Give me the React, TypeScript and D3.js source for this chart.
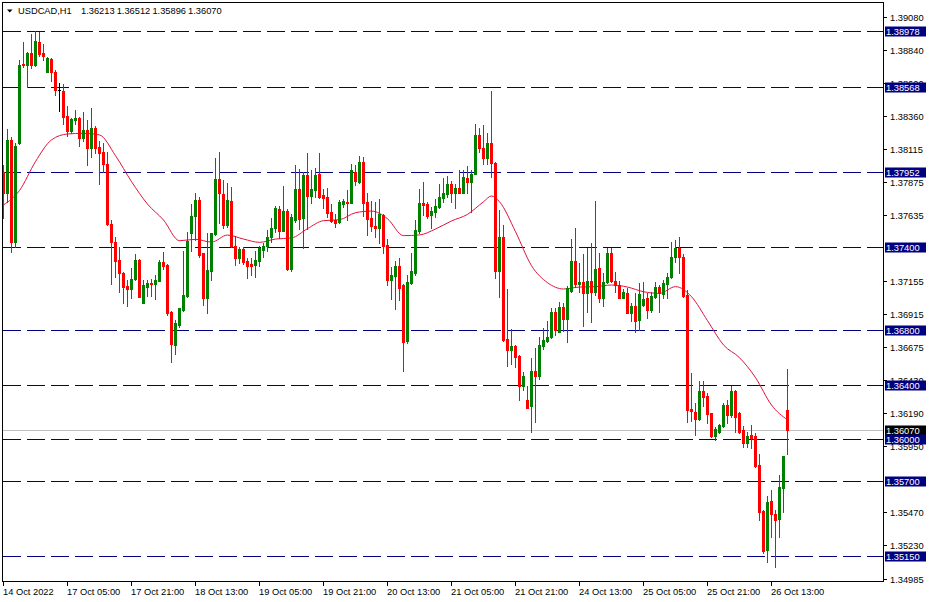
import React from "react";
import * as d3 from "d3";

// USDCAD H1 candles, bar 0 = 14 Oct 2022
const opens = [
  1.37953, 1.37795, 1.38184, 1.37443, 1.38159, 1.3874, 1.3873, 1.38818, 1.3873, 1.38901,
  1.38818, 1.38682, 1.38774, 1.38682, 1.38548, 1.38541, 1.38359, 1.38249, 1.3833, 1.38347,
  1.38201, 1.38254, 1.38128, 1.38269, 1.38133, 1.38099, 1.38006, 1.37569, 1.37443, 1.37309,
  1.37217, 1.37119, 1.37097, 1.37167, 1.37308, 1.36997, 1.37114, 1.37143, 1.37133, 1.37157,
  1.37294, 1.37272, 1.36932, 1.36689, 1.36834, 1.36944, 1.37046, 1.37507, 1.37629, 1.37746,
  1.37357, 1.37034, 1.3723, 1.37498, 1.37896, 1.37789, 1.37563, 1.37738, 1.3741, 1.3732,
  1.37388, 1.37301, 1.37277, 1.37272, 1.37303, 1.37381, 1.3741, 1.37473, 1.37539, 1.37678,
  1.37522, 1.37665, 1.37243, 1.376, 1.37823, 1.37612, 1.37928, 1.37775, 1.37818, 1.37935,
  1.37782, 1.37765, 1.37661, 1.376, 1.37588, 1.37716, 1.37733, 1.37726, 1.37952, 1.37879,
  1.38025, 1.37733, 1.37612, 1.37556, 1.37544, 1.37636, 1.37418, 1.37162, 1.37192, 1.37265,
  1.37126, 1.36718, 1.37143, 1.37211, 1.3752, 1.37726, 1.37717, 1.37636, 1.37661, 1.37697,
  1.37763, 1.37787, 1.37862, 1.37794, 1.37836, 1.37799, 1.37904, 1.37879, 1.37938, 1.38219,
  1.38127, 1.38049, 1.38159, 1.38013, 1.3723, 1.37473, 1.36732, 1.36652, 1.36681, 1.36608,
  1.3639, 1.36288, 1.36246, 1.36499, 1.36465, 1.36684, 1.3672, 1.36749, 1.36932, 1.36786,
  1.36968, 1.36878, 1.37082, 1.37301, 1.37131, 1.37145, 1.37065, 1.37155, 1.37073, 1.37248,
  1.37034, 1.3715, 1.37357, 1.37155, 1.37126, 1.37034, 1.37065, 1.36924, 1.36973, 1.36871,
  1.3698, 1.37029, 1.36944, 1.37041, 1.37114, 1.3706, 1.37133, 1.37182, 1.37328, 1.37393,
  1.37333, 1.37053, 1.3622, 1.36203, 1.36149, 1.36351, 1.36317, 1.3619, 1.36025, 1.36057,
  1.36098, 1.36251, 1.36178, 1.36351, 1.3619, 1.36069, 1.35972, 1.36033, 1.36025, 1.35814,
  1.35479, 1.35194, 1.35551, 1.35457, 1.3542, 1.35649, 1.36213,
];
const highs = [
  1.38001, 1.38264, 1.38203, 1.38159, 1.38767, 1.38901, 1.38828, 1.38956, 1.38978, 1.38973,
  1.38881, 1.38791, 1.38779, 1.3869, 1.38597, 1.38589, 1.38432, 1.38342, 1.38402, 1.38354,
  1.38385, 1.3833, 1.38415, 1.38288, 1.38176, 1.38159, 1.38099, 1.376, 1.37479, 1.37406,
  1.37222, 1.37163, 1.37252, 1.3735, 1.37313, 1.37162, 1.37162, 1.37167, 1.37199, 1.37308,
  1.37364, 1.37277, 1.36936, 1.36871, 1.36961, 1.37374, 1.37515, 1.37716, 1.37794, 1.37765,
  1.37362, 1.37503, 1.37507, 1.38049, 1.38098, 1.37891, 1.37867, 1.37843, 1.37483, 1.37405,
  1.37401, 1.3732, 1.3732, 1.37376, 1.3741, 1.37435, 1.37527, 1.37612, 1.37702, 1.37702,
  1.37848, 1.37678, 1.37644, 1.38001, 1.37972, 1.37952, 1.38086, 1.37964, 1.37976, 1.38086,
  1.37823, 1.37831, 1.37716, 1.37644, 1.37746, 1.3775, 1.37818, 1.38008, 1.38001, 1.38066,
  1.38062, 1.37799, 1.37738, 1.37733, 1.3775, 1.37641, 1.37464, 1.3726, 1.37303, 1.3732,
  1.37131, 1.37199, 1.37357, 1.376, 1.37823, 1.37874, 1.37729, 1.37697, 1.37753, 1.3786,
  1.37908, 1.37923, 1.37884, 1.3786, 1.37964, 1.37964, 1.37994, 1.37964, 1.38297, 1.38273,
  1.38292, 1.38232, 1.3854, 1.3802, 1.37673, 1.37563, 1.37097, 1.36803, 1.36686, 1.36616,
  1.36494, 1.3639, 1.36591, 1.36669, 1.36749, 1.36815, 1.36864, 1.36956, 1.36961, 1.37,
  1.36992, 1.37121, 1.37461, 1.37544, 1.37284, 1.3735, 1.37393, 1.3743, 1.37738, 1.37357,
  1.37211, 1.37398, 1.37398, 1.37218, 1.37155, 1.37097, 1.37102, 1.36992, 1.3707, 1.37138,
  1.3715, 1.37065, 1.37073, 1.3715, 1.37126, 1.37162, 1.37216, 1.37442, 1.37454, 1.37474,
  1.37352, 1.3709, 1.36482, 1.36263, 1.36426, 1.36426, 1.36336, 1.36195, 1.36088, 1.36113,
  1.36263, 1.36288, 1.3639, 1.36361, 1.36203, 1.36098, 1.36057, 1.36106, 1.36045, 1.35894,
  1.35486, 1.3559, 1.35632, 1.35486, 1.35741, 1.35879, 1.36512,
];
const lows = [
  1.37617, 1.37734, 1.3737, 1.37406, 1.38152, 1.38718, 1.38572, 1.38706, 1.38726, 1.38798,
  1.38767, 1.38677, 1.38614, 1.38512, 1.38395, 1.38298, 1.38213, 1.38232, 1.38298, 1.38142,
  1.38176, 1.38001, 1.38062, 1.38086, 1.37865, 1.37953, 1.37564, 1.37136, 1.37187, 1.37078,
  1.36998, 1.36976, 1.37034, 1.37162, 1.37036, 1.36992, 1.37046, 1.37046, 1.37026, 1.37153,
  1.3724, 1.36907, 1.36567, 1.36623, 1.36822, 1.36939, 1.37041, 1.37374, 1.37454, 1.37333,
  1.3698, 1.36924, 1.37162, 1.3749, 1.37576, 1.37539, 1.37551, 1.37405, 1.37272, 1.37289,
  1.37279, 1.37175, 1.37199, 1.37187, 1.37265, 1.37333, 1.37376, 1.37442, 1.37515, 1.37466,
  1.37517, 1.37235, 1.37228, 1.37588, 1.37532, 1.37393, 1.37532, 1.37726, 1.37765, 1.37758,
  1.37685, 1.37619, 1.37588, 1.37546, 1.3758, 1.37697, 1.376, 1.37721, 1.37855, 1.37867,
  1.37629, 1.3749, 1.37522, 1.37478, 1.37435, 1.37362, 1.37126, 1.37024, 1.36951, 1.37017,
  1.36501, 1.36706, 1.37131, 1.37199, 1.37508, 1.37636, 1.37612, 1.37544, 1.37624, 1.3769,
  1.37733, 1.3777, 1.37729, 1.37685, 1.37794, 1.37794, 1.37794, 1.37656, 1.37933, 1.38098,
  1.38008, 1.38006, 1.37916, 1.37179, 1.37041, 1.3672, 1.36538, 1.3655, 1.36531, 1.36288,
  1.36361, 1.36227, 1.36057, 1.3613, 1.36441, 1.36659, 1.36713, 1.36742, 1.36762, 1.36781,
  1.36791, 1.36708, 1.37077, 1.37114, 1.37073, 1.3683, 1.36927, 1.36859, 1.37053, 1.37005,
  1.36975, 1.37138, 1.3715, 1.37077, 1.37029, 1.37029, 1.36919, 1.36864, 1.36786, 1.36798,
  1.36975, 1.36888, 1.36932, 1.37029, 1.36932, 1.37029, 1.37029, 1.37175, 1.37296, 1.37211,
  1.37036, 1.3613, 1.36137, 1.36033, 1.36144, 1.36244, 1.36122, 1.36016, 1.35996, 1.3605,
  1.36093, 1.36122, 1.36166, 1.36057, 1.36045, 1.35948, 1.35948, 1.35935, 1.35802, 1.35413,
  1.3517, 1.35109, 1.35291, 1.35073, 1.35287, 1.35474, 1.35896,
];
const closes = [
  1.37795, 1.38184, 1.37443, 1.3814, 1.3873, 1.38728, 1.38818, 1.3873, 1.38905, 1.38808,
  1.38798, 1.38779, 1.38682, 1.38548, 1.38548, 1.38354, 1.38249, 1.38337, 1.38342, 1.38201,
  1.38254, 1.38128, 1.38269, 1.38128, 1.38091, 1.38006, 1.37569, 1.37438, 1.37304, 1.37217,
  1.37114, 1.37097, 1.3717, 1.37308, 1.37041, 1.37126, 1.37143, 1.37136, 1.37162, 1.37294,
  1.37265, 1.36919, 1.36696, 1.36851, 1.36956, 1.37053, 1.37447, 1.37629, 1.37746, 1.37345,
  1.37034, 1.37235, 1.37503, 1.37896, 1.37799, 1.37563, 1.37746, 1.3741, 1.3732, 1.37388,
  1.37296, 1.37265, 1.37267, 1.37308, 1.37393, 1.3741, 1.37478, 1.37539, 1.37685, 1.37522,
  1.37665, 1.37243, 1.37619, 1.37823, 1.37605, 1.37928, 1.37775, 1.37823, 1.37928, 1.37765,
  1.37758, 1.37653, 1.37595, 1.3758, 1.37733, 1.37738, 1.37726, 1.37964, 1.37887, 1.38025,
  1.37726, 1.37605, 1.37556, 1.37544, 1.37644, 1.3741, 1.37162, 1.37199, 1.37265, 1.37107,
  1.36713, 1.37145, 1.37228, 1.37527, 1.37721, 1.37709, 1.37629, 1.37665, 1.37702, 1.3777,
  1.37794, 1.37862, 1.37794, 1.37836, 1.37799, 1.37916, 1.37879, 1.37938, 1.38219, 1.38122,
  1.38054, 1.38159, 1.38018, 1.3723, 1.37473, 1.36725, 1.36652, 1.36681, 1.36604, 1.3639,
  1.36463, 1.36232, 1.36499, 1.36465, 1.36689, 1.36725, 1.36749, 1.36932, 1.36798, 1.36968,
  1.36878, 1.37102, 1.37301, 1.37131, 1.37145, 1.37065, 1.37155, 1.37073, 1.37243, 1.37034,
  1.3715, 1.37357, 1.37155, 1.37126, 1.37034, 1.37073, 1.36924, 1.36973, 1.36864, 1.37058,
  1.37024, 1.36944, 1.37046, 1.37114, 1.37065, 1.37143, 1.37187, 1.37328, 1.37393, 1.37328,
  1.37046, 1.36215, 1.36208, 1.36149, 1.36351, 1.36312, 1.36188, 1.36025, 1.36074, 1.36106,
  1.36251, 1.36178, 1.36351, 1.36161, 1.36057, 1.35972, 1.36025, 1.36008, 1.35807, 1.35474,
  1.35189, 1.35547, 1.35454, 1.35413, 1.35656, 1.35879, 1.3607,
];

// moving average (bar index -> value)
const maBars = [0, 4, 8, 12, 16, 20, 24, 28, 32, 36, 40, 44, 48, 52, 56, 60, 64, 68, 72, 76, 80, 84, 88, 92, 96, 100, 104, 108, 112, 116, 120, 122, 124, 128, 132, 136, 140, 144, 148, 152, 156, 160, 164, 168, 172, 176, 180, 184, 188, 192, 196];
const maValues = [
  1.3771, 1.37815, 1.38026, 1.38184, 1.38227, 1.38232, 1.3822, 1.38069, 1.3788, 1.37716,
  1.376, 1.37449, 1.37459, 1.37439, 1.3749, 1.37461, 1.37437, 1.37461, 1.37469, 1.37537,
  1.37595, 1.37602, 1.37653, 1.37665, 1.37609, 1.37486, 1.37491, 1.37534, 1.37593, 1.37641,
  1.37733, 1.37775, 1.37733, 1.37515, 1.37267, 1.37143, 1.37097, 1.37111, 1.37114, 1.37126,
  1.37111, 1.37077, 1.37065, 1.37114, 1.37041, 1.36866, 1.36689, 1.36596, 1.36451, 1.36251,
  1.36142,
];

const levels = [1.38978, 1.38568, 1.37952, 1.374, 1.368, 1.364, 1.36, 1.357, 1.3515];
// scale labels (the ones fully under a level box are left out)
const priceTicks = [1.3908, 1.3884, 1.386, 1.3836, 1.38115, 1.37875, 1.37635, 1.37155, 1.36915, 1.36675, 1.3643, 1.3619, 1.3595, 1.3547, 1.3523, 1.34985];
const timeTicks = [0, 16, 32, 48, 64, 80, 96, 112, 128, 144, 160, 176, 192];
const timeLabels = ["14 Oct 2022", "17 Oct 05:00", "17 Oct 21:00", "18 Oct 13:00", "19 Oct 05:00", "19 Oct 21:00", "20 Oct 13:00", "21 Oct 05:00", "21 Oct 21:00", "24 Oct 13:00", "25 Oct 05:00", "25 Oct 21:00", "26 Oct 13:00"];
const symbol = "USDCAD,H1";
const lastBar = [1.36213, 1.36512, 1.35896, 1.3607];

const W = 929;
const H = 602;
const plotL = 2;
const plotR = 883;
const plotT = 2;
const plotB = 581;
const font = "'Liberation Sans', Arial, sans-serif";

export default function App() {
  const n = closes.length;
  const x = d3.scaleLinear().domain([0, n - 1]).range([3, 3 + 4 * (n - 1)]);
  const y = d3.scaleLinear().domain([1.34968, 1.39182]).range([plotB, plotT + 1]);
  const py = (v: number) => Math.round(y(v)) + 0.5;

  const maLine = d3
    .line<number>()
    .x((d, i) => x(maBars[i]) + 0.5)
    .y((d) => y(d))
    .curve(d3.curveMonotoneX);

  const last = closes[n - 1];

  return (
    <svg
      width={W}
      height={H}
      style={{ position: "absolute", left: 0, top: 0, display: "block", background: "#fff" }}
      fontFamily={font}
      fontSize={9.3}
    >
      <rect x={0} y={0} width={W} height={H} fill="#fff" />

      {/* support / resistance levels */}
      {levels.map((v) => (
        <line
          key={v}
          x1={plotL + 1}
          x2={plotR}
          y1={py(v)}
          y2={py(v)}
          stroke="#000080"
          strokeDasharray="18 6"
        />
      ))}

      {/* current price line */}
      <line x1={plotL + 1} x2={plotR} y1={py(last)} y2={py(last)} stroke="#c0c0c0" />

      {/* moving average */}
      <path d={maLine(maValues) || ""} fill="none" stroke="#dc143c" strokeWidth={1} />

      {/* candles */}
      {closes.map((c, i) => {
        const o = opens[i];
        const col = c > o ? "#008000" : c < o ? "#ff0000" : "#000000";
        const cx = x(i);
        const top = Math.round(y(Math.max(o, c)));
        const bot = Math.round(y(Math.min(o, c)));
        const hy = Math.round(y(highs[i]));
        const ly = Math.round(y(lows[i]));
        return (
          <g key={i} fill={col}>
            <rect x={cx} y={hy} width={1} height={Math.max(1, ly - hy + 1)} />
            <rect x={cx - 1} y={top} width={3} height={Math.max(1, bot - top + 1)} />
          </g>
        );
      })}

      {/* frame */}
      <rect
        x={plotL + 0.5}
        y={plotT + 0.5}
        width={plotR - plotL}
        height={plotB - plotT}
        fill="none"
        stroke="#000"
      />

      {/* price axis */}
      {priceTicks.map((v) => (
        <g key={v}>
          <line x1={plotR + 0.5} x2={plotR + 4} y1={py(v)} y2={py(v)} stroke="#000" />
          <text x={890} y={py(v)} dy="0.35em" fill="#000">
            {v.toFixed(5)}
          </text>
        </g>
      ))}

      {/* time axis */}
      {timeTicks.map((b, k) => (
        <g key={b}>
          <line x1={x(b) + 0.5} x2={x(b) + 0.5} y1={plotB + 0.5} y2={plotB + 5} stroke="#000" />
          <text x={x(b)} y={595} fill="#000">
            {timeLabels[k]}
          </text>
        </g>
      ))}

      {/* level labels */}
      <g>
        <rect x={885} y={py(last) - 5} width={41} height={10} fill="#000" />
        <text x={886} y={py(last)} dy="0.35em" fill="#fff">
          {last.toFixed(5)}
        </text>
      </g>
      {levels.map((v) => (
        <g key={"l" + v}>
          <rect x={885} y={py(v) - 5} width={41} height={10} fill="#000080" />
          <text x={886} y={py(v)} dy="0.35em" fill="#fff">
            {v.toFixed(5)}
          </text>
        </g>
      ))}

      {/* header */}
      <path d="M7,9.5 L12.5,9.5 L9.75,12.5 Z" fill="#000" />
      <text x={18} y={14} fill="#000">
        {symbol}
      </text>
      {lastBar.map((v, k) => (
        <text key={k} x={81 + k * 35.7} y={14} fill="#000">
          {v.toFixed(5)}
        </text>
      ))}
    </svg>
  );
}
